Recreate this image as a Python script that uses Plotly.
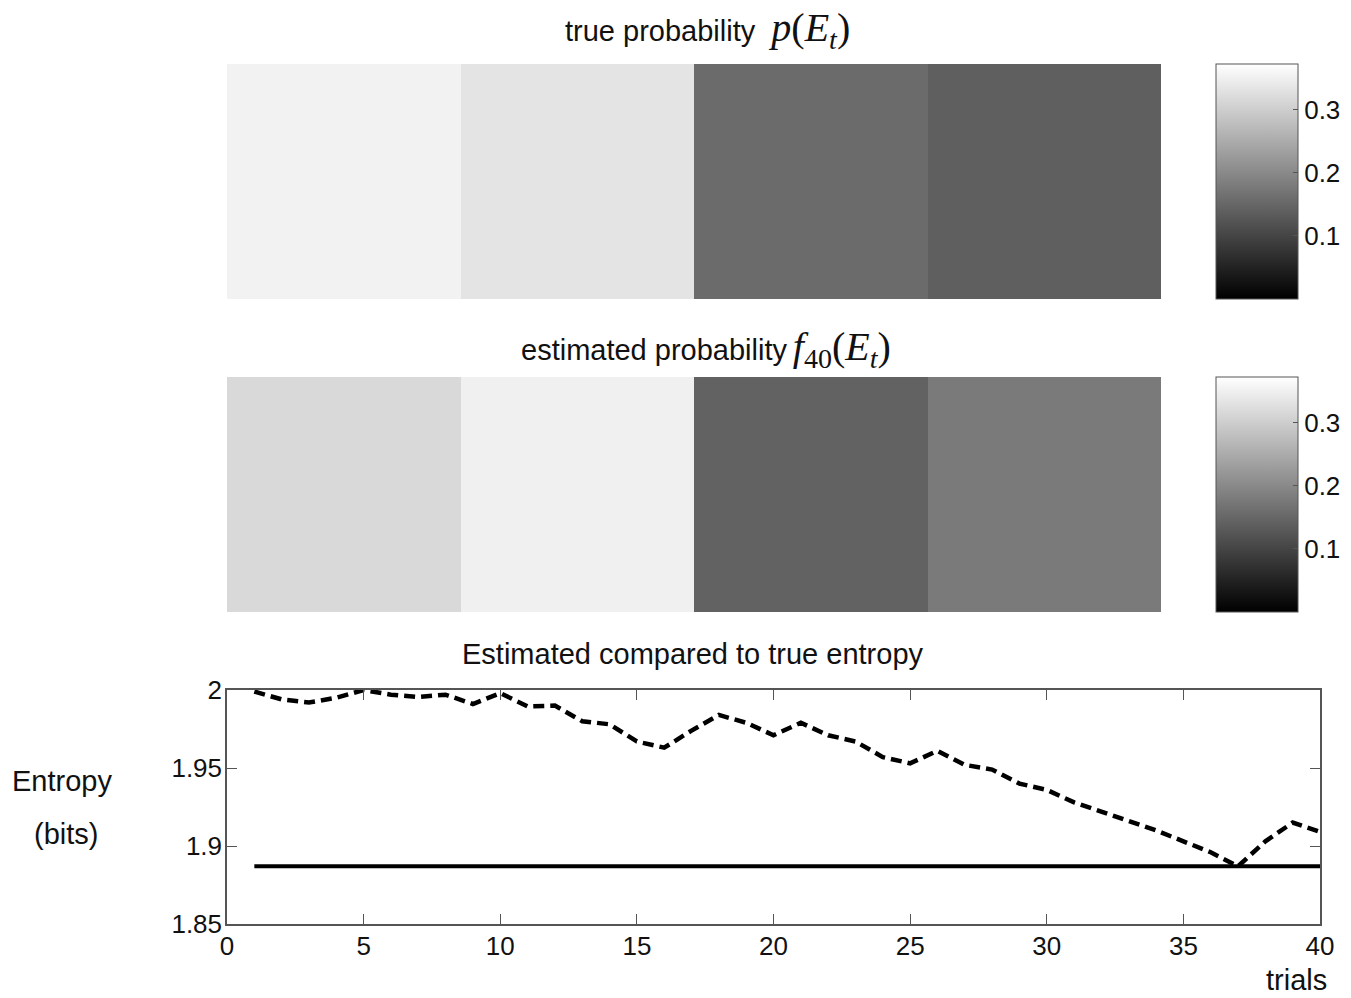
import plotly.graph_objects as go

W, H = 1351, 998

# ---- data ----
events = [1, 2, 3, 4]
true_prob = [0.353, 0.333, 0.156, 0.139]
est_prob = [0.316, 0.350, 0.143, 0.178]
cbar_range = [0.0, 0.372]
cbar_ticks = [0.1, 0.2, 0.3]

trials = list(range(1, 41))
est_entropy = [1.999, 1.994, 1.992, 1.995, 2.000, 1.997, 1.9955, 1.997, 1.991, 1.998,
               1.9895, 1.990, 1.980, 1.978, 1.967, 1.963, 1.974, 1.984, 1.979, 1.971,
               1.979, 1.971, 1.967, 1.957, 1.953, 1.961, 1.952, 1.949, 1.940, 1.936,
               1.928, 1.922, 1.916, 1.910, 1.903, 1.896, 1.887, 1.903, 1.915, 1.909]
true_entropy = [1.887] * 40

x_ticks = [0, 5, 10, 15, 20, 25, 30, 35, 40]
y_ticks = [1.85, 1.9, 1.95, 2.0]
y_tick_text = ["1.85", "1.9", "1.95", "2"]

FONT = "Liberation Sans, Arial, sans-serif"
FS_TICK = 26
FS_TXT = 29
AX = "#555555"


def px_x(p):
    return p / W


def px_y(p):
    return 1 - p / H


fig = go.Figure()

gray = [[0, "black"], [1, "white"]]

hm_x = [px_x(227), px_x(1161)]
hm1_y = [px_y(299), px_y(64)]
hm2_y = [px_y(612), px_y(377)]

for i, (vals, dom) in enumerate([(true_prob, hm1_y), (est_prob, hm2_y)]):
    xa = "x" if i == 0 else "x2"
    ya = "y" if i == 0 else "y2"
    fig.add_trace(go.Heatmap(
        z=[vals], x=events, y=[0], xaxis=xa, yaxis=ya,
        colorscale=gray, zmin=cbar_range[0], zmax=cbar_range[1],
        hoverinfo="skip",
        colorbar=dict(
            x=px_x(1216), xanchor="left", xpad=0,
            y=(dom[0] + dom[1]) / 2, yanchor="middle", ypad=0,
            len=235, lenmode="pixels", thickness=82, thicknessmode="pixels",
            outlinewidth=1, outlinecolor=AX,
            tickvals=cbar_ticks, ticktext=["0.1", "0.2", "0.3"],
            ticks="inside", ticklen=5, tickcolor=AX,
            tickfont=dict(family=FONT, size=FS_TICK, color="#111"),
        ),
    ))

fig.add_trace(go.Scatter(
    x=trials, y=true_entropy, mode="lines", xaxis="x3", yaxis="y3",
    line=dict(color="black", width=4), hoverinfo="skip", showlegend=False))
fig.add_trace(go.Scatter(
    x=trials, y=est_entropy, mode="lines", xaxis="x3", yaxis="y3",
    line=dict(color="black", width=4.5, dash="11px,6px"), hoverinfo="skip",
    showlegend=False))

hidden = dict(visible=False, showgrid=False, zeroline=False)
fig.update_layout(
    width=W, height=H, margin=dict(l=0, r=0, t=0, b=0, autoexpand=False),
    paper_bgcolor="white", plot_bgcolor="white", showlegend=False,
    xaxis=dict(domain=hm_x, range=[0.5, 4.5], **hidden),
    yaxis=dict(domain=hm1_y, range=[-0.5, 0.5], **hidden),
    xaxis2=dict(domain=hm_x, range=[0.5, 4.5], anchor="y2", **hidden),
    yaxis2=dict(domain=hm2_y, range=[-0.5, 0.5], anchor="x2", **hidden),
    xaxis3=dict(domain=[px_x(227), px_x(1320)], range=[0, 40], anchor="y3",
                tickvals=x_ticks, ticks="inside", ticklen=10, tickcolor=AX,
                showline=True, linecolor=AX, linewidth=1.5, mirror="ticks",
                showgrid=False, zeroline=False, ticklabelstandoff=-2,
                tickfont=dict(family=FONT, size=FS_TICK, color="#111")),
    yaxis3=dict(domain=[px_y(924), px_y(690)], range=[1.85, 2.0], anchor="x3",
                tickvals=y_ticks, ticktext=y_tick_text, ticks="inside",
                ticklen=10, tickcolor=AX, showline=True, linecolor=AX,
                linewidth=1.5, mirror="ticks", showgrid=False, zeroline=False,
                ticklabelstandoff=-2,
                tickfont=dict(family=FONT, size=FS_TICK, color="#111")),
)

MATH = "font-family:Liberation Serif, Times New Roman, serif;font-size:40px"
title1 = ('true probability  <span style="%s"><i>p</i>(<i>E<sub>t</sub></i>)</span>' % MATH)
title2 = ('estimated probability\u2009<span style="%s"><i>f</i><sub>40</sub>(<i>E<sub>t</sub></i>)</span>' % MATH)

ann = [
    dict(text=title1, x=px_x(707), y=px_y(30)),
    dict(text=title2, x=px_x(706), y=px_y(349)),
    dict(text="Estimated compared to true entropy", x=px_x(693), y=px_y(654)),
    dict(text="Entropy", x=px_x(62), y=px_y(781)),
    dict(text="(bits)", x=px_x(66), y=px_y(834)),
    dict(text="trials", x=px_x(1296), y=px_y(980)),
]
for a in ann:
    fig.add_annotation(xref="paper", yref="paper", showarrow=False,
                       xanchor="center", yanchor="middle",
                       font=dict(family=FONT, size=FS_TXT, color="#111"), **a)

fig.write_html("out.html")
